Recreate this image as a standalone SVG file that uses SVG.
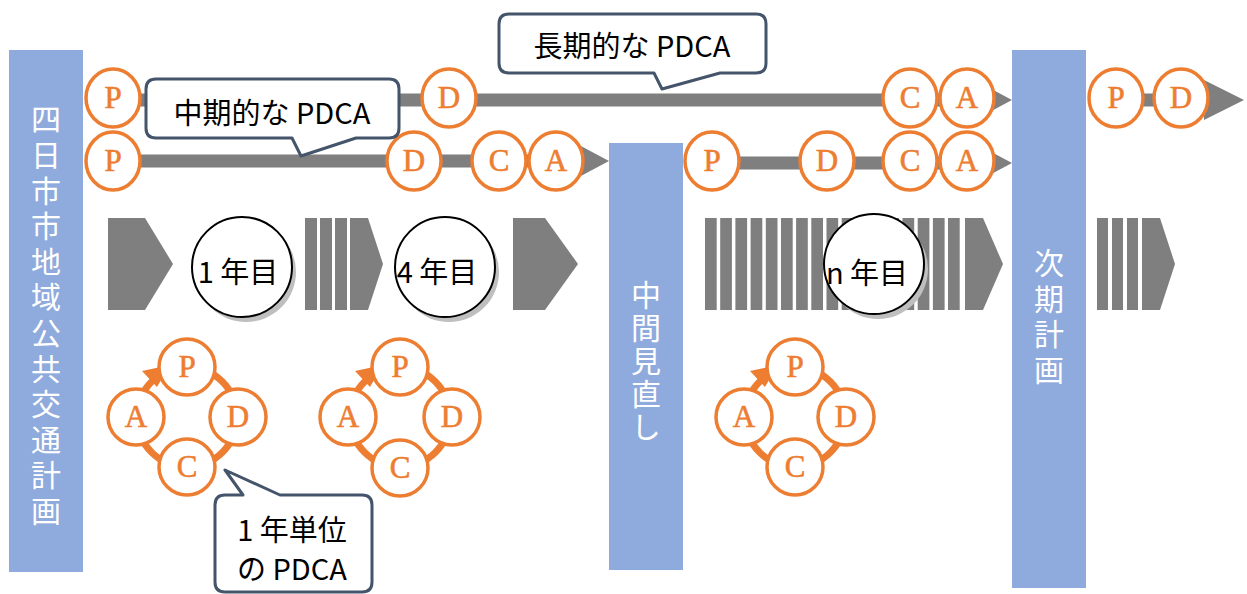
<svg xmlns="http://www.w3.org/2000/svg" width="1247" height="594" viewBox="0 0 1247 594">
<defs>
<style>
.bar{fill:#8FAADC}
.vt{font-family:"Noto Sans CJK JP","Noto Sans",sans-serif;font-size:30px;fill:#fff;writing-mode:vertical-rl}
.gray{fill:#7F7F7F}
.ln{stroke:#7F7F7F;stroke-width:13;fill:none}
.pc{fill:#fff;stroke:#ED7D31;stroke-width:3.5}
.pl{font-family:"Liberation Serif","DejaVu Serif",serif;font-size:31px;fill:#ED7D31;stroke:#ED7D31;stroke-width:0.6;text-anchor:middle}
.yc{fill:#fff;stroke:#000;stroke-width:2}
.ys{fill:#BFBFBF}
.jt{font-family:"Noto Sans CJK JP","Noto Sans",sans-serif;font-size:29px;fill:#000;text-anchor:middle;dominant-baseline:central}
.co{fill:#fff;stroke:#44546A;stroke-width:3;stroke-linejoin:round}
.ring{fill:none;stroke:#ED7D31;stroke-width:7}
.ah{fill:#ED7D31}
</style>
</defs>

<!-- plan bars -->
<g id="plan">
<rect class="bar" x="9" y="50" width="74" height="522"/>
<text class="vt" x="46" y="104" style="letter-spacing:5.6px">四日市市地域公共交通計画</text>
</g>
<g id="midreview">
<rect class="bar" x="609" y="143" width="74" height="427"/>
<text class="vt" x="646" y="280" style="letter-spacing:3px">中間見直し</text>
</g>
<g id="nextplan">
<rect class="bar" x="1012" y="50" width="74" height="538"/>
<text class="vt" x="1049" y="248" style="letter-spacing:5.5px">次期計画</text>
</g>

<!-- connectors / timelines -->
<g id="connectors">
<line class="ln" x1="113" y1="100" x2="990" y2="100"/>
<polygon class="gray" points="982,84 1012,100 982,116"/>
<line class="ln" x1="113" y1="161" x2="585" y2="161"/>
<polygon class="gray" points="579,145 609,161 579,177"/>
<line class="ln" x1="712" y1="163" x2="990" y2="163"/>
<polygon class="gray" points="982,147 1012,163 982,179"/>
<line class="ln" x1="1116" y1="100" x2="1210" y2="100"/>
<polygon class="gray" points="1204,80 1244,100 1204,120"/>
</g>

<!-- row 1 nodes -->
<g id="r1P"><ellipse class="pc" cx="113" cy="98" rx="27" ry="29"/><text class="pl" x="113" y="108">P</text></g>
<g id="r1D"><ellipse class="pc" cx="449" cy="98" rx="27" ry="29"/><text class="pl" x="449" y="108">D</text></g>
<g id="r1C"><ellipse class="pc" cx="910" cy="98" rx="27" ry="29"/><text class="pl" x="910" y="108">C</text></g>
<g id="r1A"><ellipse class="pc" cx="967" cy="98" rx="27" ry="29"/><text class="pl" x="967" y="108">A</text></g>
<g id="r1P2"><ellipse class="pc" cx="1116" cy="98" rx="27" ry="29"/><text class="pl" x="1116" y="108">P</text></g>
<g id="r1D2"><ellipse class="pc" cx="1181" cy="98" rx="27" ry="29"/><text class="pl" x="1181" y="108">D</text></g>

<!-- row 2 nodes -->
<g id="r2P"><ellipse class="pc" cx="113" cy="161" rx="27" ry="29"/><text class="pl" x="113" y="171">P</text></g>
<g id="r2D"><ellipse class="pc" cx="414" cy="161" rx="27" ry="29"/><text class="pl" x="414" y="171">D</text></g>
<g id="r2C"><ellipse class="pc" cx="499" cy="161" rx="27" ry="29"/><text class="pl" x="499" y="171">C</text></g>
<g id="r2A"><ellipse class="pc" cx="556" cy="161" rx="27" ry="29"/><text class="pl" x="556" y="171">A</text></g>
<g id="r2P2"><ellipse class="pc" cx="712" cy="161" rx="27" ry="29"/><text class="pl" x="712" y="171">P</text></g>
<g id="r2D2"><ellipse class="pc" cx="827" cy="161" rx="27" ry="29"/><text class="pl" x="827" y="171">D</text></g>
<g id="r2C2"><ellipse class="pc" cx="910" cy="161" rx="27" ry="29"/><text class="pl" x="910" y="171">C</text></g>
<g id="r2A2"><ellipse class="pc" cx="967" cy="161" rx="27" ry="29"/><text class="pl" x="967" y="171">A</text></g>

<!-- callouts -->
<g id="callout-long">
<path class="co" d="M509,14 H756 Q766,14 766,24 V63 Q766,73 756,73 H720 L662,89 L654,73 H509 Q499,73 499,63 V24 Q499,14 509,14 Z"/>
<text class="jt" x="632" y="44">長期的な PDCA</text>
</g>
<g id="callout-mid">
<path class="co" d="M156,79 H389 Q399,79 399,89 V128 Q399,138 389,138 H356 L301,156 L292,138 H156 Q146,138 146,128 V89 Q146,79 156,79 Z"/>
<text class="jt" x="272" y="111">中期的な PDCA</text>
</g>

<!-- year chevrons -->
<g id="chevrons">
<polygon class="gray" points="108,218 145,218 173,264 145,310 108,310"/>
<rect class="gray" x="305" y="218" width="12" height="92"/>
<rect class="gray" x="320" y="218" width="12" height="92"/>
<rect class="gray" x="335" y="218" width="12" height="92"/>
<polygon class="gray" points="350,218 368,218 383,264 368,310 350,310"/>
<polygon class="gray" points="513,218 545,218 578,264 545,310 513,310"/>
<rect class="gray" x="705" y="218" width="11.7" height="92"/>
<rect class="gray" x="720.2" y="218" width="11.7" height="92"/>
<rect class="gray" x="735.4" y="218" width="11.7" height="92"/>
<rect class="gray" x="750.6" y="218" width="11.7" height="92"/>
<rect class="gray" x="765.8" y="218" width="11.7" height="92"/>
<rect class="gray" x="781" y="218" width="11.7" height="92"/>
<rect class="gray" x="796.1" y="218" width="11.7" height="92"/>
<rect class="gray" x="811.3" y="218" width="11.7" height="92"/>
<rect class="gray" x="826.5" y="218" width="11.7" height="92"/>
<rect class="gray" x="841.7" y="218" width="11.7" height="92"/>
<rect class="gray" x="856.9" y="218" width="11.7" height="92"/>
<rect class="gray" x="872.1" y="218" width="11.7" height="92"/>
<rect class="gray" x="887.3" y="218" width="11.7" height="92"/>
<rect class="gray" x="902.5" y="218" width="11.7" height="92"/>
<rect class="gray" x="917.7" y="218" width="11.7" height="92"/>
<rect class="gray" x="932.9" y="218" width="11.7" height="92"/>
<rect class="gray" x="948" y="218" width="11.7" height="92"/>
<polygon class="gray" points="965,218 983,218 1003,264 983,310 965,310"/>
<rect class="gray" x="1097" y="218" width="11" height="92"/>
<rect class="gray" x="1112" y="218" width="11" height="92"/>
<rect class="gray" x="1127" y="218" width="11" height="92"/>
<polygon class="gray" points="1142,218 1160,218 1175,264 1160,310 1142,310"/>
</g>

<!-- year circles -->
<g id="year1">
<circle class="ys" cx="246" cy="272" r="50"/>
<circle class="yc" cx="242" cy="267" r="50"/>
<text class="jt" x="238" y="270">1 年目</text>
</g>
<g id="year4">
<circle class="ys" cx="449" cy="272" r="50"/>
<circle class="yc" cx="445" cy="267" r="50"/>
<text class="jt" x="437" y="270">4 年目</text>
</g>
<g id="yearn">
<circle class="ys" cx="878" cy="269" r="50"/>
<circle class="yc" cx="874" cy="264" r="50"/>
<text class="jt" x="867" y="271">n 年目</text>
</g>

<!-- annual PDCA cycles -->
<g id="cycle1" transform="translate(187,417)">
<circle class="ring" r="50"/>
<polygon class="ah" points="-17,-52 -45,-46 -30,-30"/>
<circle class="pc" cx="0" cy="-50" r="28"/><text class="pl" x="0" y="-40">P</text>
<circle class="pc" cx="51" cy="0" r="28"/><text class="pl" x="51" y="10">D</text>
<circle class="pc" cx="0" cy="50" r="28"/><text class="pl" x="0" y="60">C</text>
<circle class="pc" cx="-51" cy="0" r="28"/><text class="pl" x="-51" y="10">A</text>
</g>
<g id="cycle2" transform="translate(400,417)">
<circle class="ring" r="50"/>
<polygon class="ah" points="-17,-52 -45,-46 -30,-30"/>
<circle class="pc" cx="0" cy="-50" r="28"/><text class="pl" x="0" y="-40">P</text>
<circle class="pc" cx="52" cy="0" r="28"/><text class="pl" x="52" y="10">D</text>
<circle class="pc" cx="0" cy="51" r="28"/><text class="pl" x="0" y="61">C</text>
<circle class="pc" cx="-52" cy="0" r="28"/><text class="pl" x="-52" y="10">A</text>
</g>
<g id="cycle3" transform="translate(795,417)">
<circle class="ring" r="50"/>
<polygon class="ah" points="-17,-52 -45,-46 -30,-30"/>
<circle class="pc" cx="0" cy="-50" r="28"/><text class="pl" x="0" y="-40">P</text>
<circle class="pc" cx="51" cy="0" r="28"/><text class="pl" x="51" y="10">D</text>
<circle class="pc" cx="0" cy="50" r="28"/><text class="pl" x="0" y="60">C</text>
<circle class="pc" cx="-51" cy="0" r="28"/><text class="pl" x="-51" y="10">A</text>
</g>

<g id="callout-annual">
<path class="co" d="M225,495 H243 L225,470 L280,495 H362 Q372,495 372,505 V582 Q372,592 362,592 H225 Q215,592 215,582 V505 Q215,495 225,495 Z"/>
<text class="jt" x="292" y="528">1 年単位</text>
<text class="jt" x="292" y="567">の PDCA</text>
</g>
</svg>
